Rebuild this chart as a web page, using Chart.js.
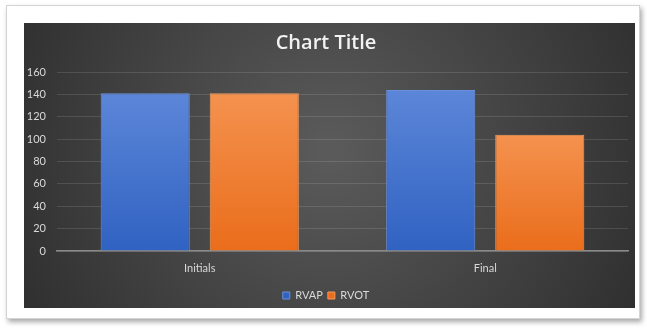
<!DOCTYPE html>
<html>
<head>
<meta charset="utf-8">
<script src="https://cdn.jsdelivr.net/npm/chart.js@4/dist/chart.umd.min.js"></script>
<style>
  html, body { margin: 0; padding: 0; background: #ffffff; }
  body { width: 647px; height: 328px; position: relative; overflow: hidden; }
  .card {
    position: absolute; left: 6px; top: 5px; width: 632px; height: 312px;
    background: #ffffff; border: 1px solid #d4d4d4;
    box-shadow: 2px 3px 5px rgba(0,0,0,0.35);
  }
  .plot { position: absolute; left: 24px; top: 23px; width: 611px; height: 285px; }
  canvas { display: block; }
</style>
</head>
<body>
<div class="card"></div>
<div class="plot"><canvas id="c" width="611" height="285"></canvas></div>
<script>
const categories = ['Initials', 'Final'];
const rvap = [141, 144];
const rvot = [141, 104];
const yTicks = [0, 20, 40, 60, 80, 100, 120, 140, 160];

const FONT = 'Lato, "Open Sans", sans-serif';

// dark radial backdrop behind the whole chart
const backdrop = {
  id: 'backdrop',
  beforeDraw(chart) {
    const { ctx, width, height } = chart;
    const g = ctx.createRadialGradient(width * 0.5, height * 0.45, 10, width * 0.5, height * 0.45, width * 0.62);
    g.addColorStop(0, '#5a5a5a');
    g.addColorStop(1, '#2b2b2b');
    ctx.save();
    ctx.fillStyle = g;
    ctx.fillRect(0, 0, width, height);
    ctx.restore();
  }
};

// vertical shading for each bar, lighter at the top
function barFill(top, bottom) {
  return function (context) {
    const chart = context.chart;
    const area = chart.chartArea;
    if (!area) return bottom;
    const y = chart.scales.y;
    const v = context.raw;
    const yTop = y.getPixelForValue(typeof v === 'number' ? v : 0);
    const yBase = y.getPixelForValue(0);
    const g = chart.ctx.createLinearGradient(0, yTop, 0, yBase);
    g.addColorStop(0, top);
    g.addColorStop(1, bottom);
    return g;
  };
}

new Chart(document.getElementById('c'), {
  type: 'bar',
  data: {
    labels: categories,
    datasets: [
      {
        label: 'RVAP',
        data: rvap,
        backgroundColor: barFill('#5c86d8', '#3062c2'),
        borderColor: '#6a90dc',
        borderWidth: 1,
        categoryPercentage: 0.764,
        barPercentage: 0.817
      },
      {
        label: 'RVOT',
        data: rvot,
        backgroundColor: barFill('#f4924f', '#ea6d1b'),
        borderColor: '#f59a5c',
        borderWidth: 1,
        categoryPercentage: 0.764,
        barPercentage: 0.817
      }
    ]
  },
  options: {
    responsive: false,
    animation: false,
    layout: { padding: { left: 0, right: 7, top: 0, bottom: -3 } },
    plugins: {
      title: {
        display: true,
        text: 'Chart Title',
        color: '#f2f2f2',
        font: { family: '"Open Sans", Lato, sans-serif', size: 20, weight: '600' },
        padding: { top: 8, bottom: 17 }
      },
      legend: {
        position: 'bottom',
        labels: {
          color: '#d9d9d9',
          font: { family: FONT, size: 11 },
          boxWidth: 7,
          boxHeight: 7,
          padding: 5
        }
      },
      tooltip: { enabled: false }
    },
    scales: {
      x: {
        afterFit(scale) { scale.height = 34; },
        grid: { display: false, drawTicks: false },
        border: { display: true, color: '#8a8a8a', width: 1.5 },
        ticks: { color: '#d9d9d9', font: { family: FONT, size: 11 }, padding: 11 }
      },
      y: {
        min: 0,
        max: 160,
        afterBuildTicks(scale) { scale.ticks = yTicks.map(v => ({ value: v })); },
        afterFit(scale) { scale.width = 33; },
        grid: { color: 'rgba(255,255,255,0.12)', lineWidth: 1, drawTicks: false },
        border: { display: false },
        ticks: { color: '#d9d9d9', font: { family: FONT, size: 11 }, padding: 11 }
      }
    }
  },
  plugins: [backdrop]
});
</script>
</body>
</html>
